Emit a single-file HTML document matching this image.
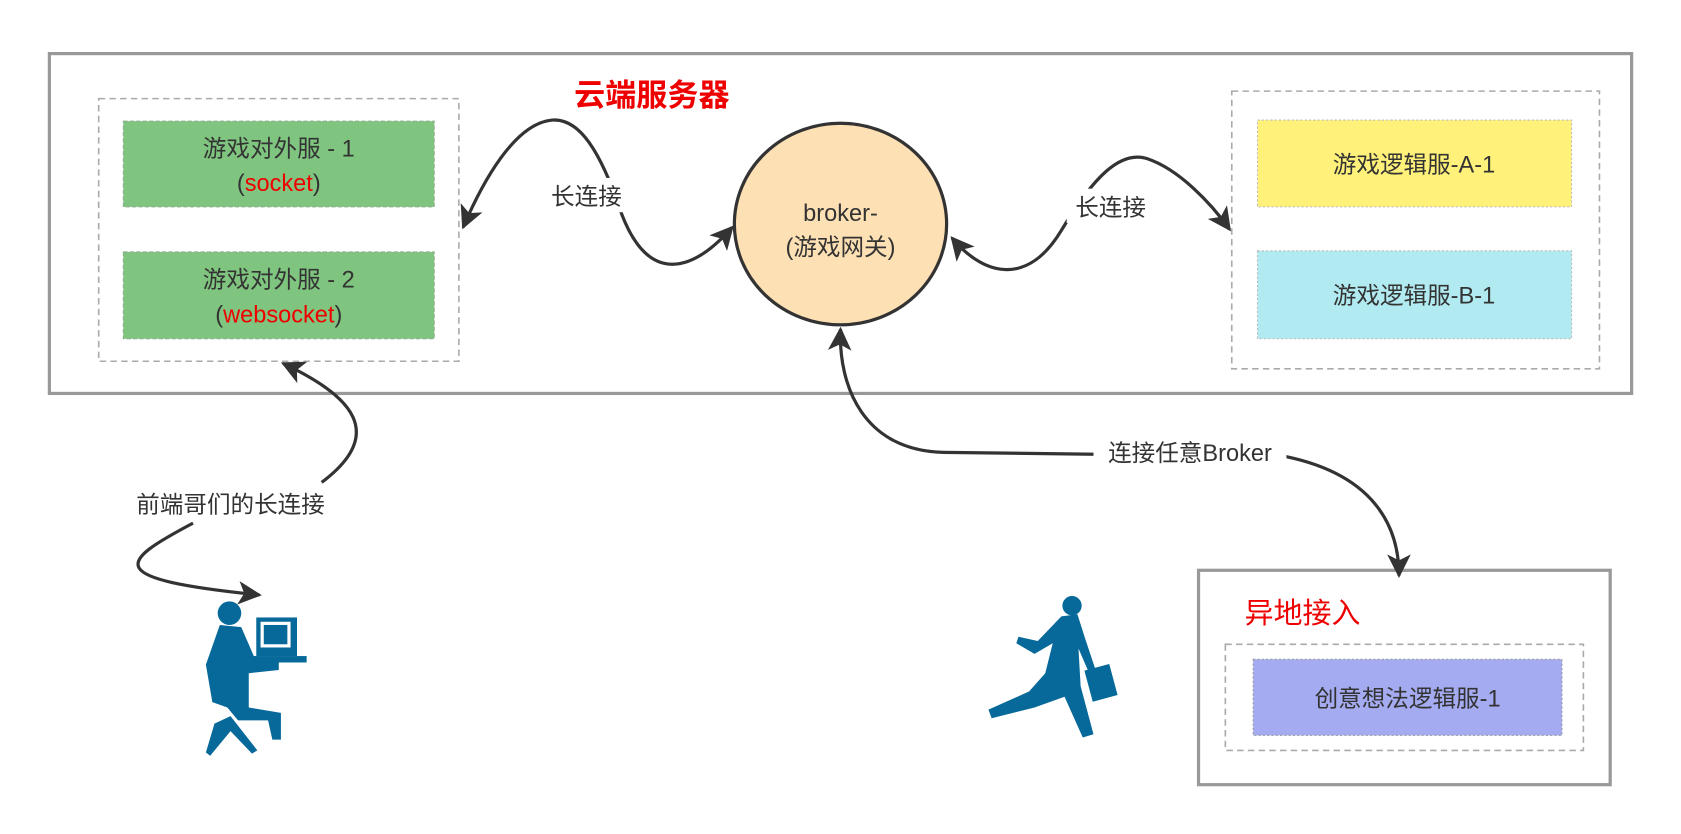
<!DOCTYPE html>
<html><head><meta charset="utf-8"><style>
html,body{margin:0;padding:0;background:#fff;}
svg{display:block}
text{font-family:"Liberation Sans","Noto Sans CJK SC",sans-serif;}
</style></head><body>
<svg width="1681" height="834" viewBox="0 0 1568 778" xmlns="http://www.w3.org/2000/svg">
<defs>
<marker id="b" viewBox="0 0 10 10" refX="9" refY="5" markerWidth="22" markerHeight="22" orient="auto-start-reverse" markerUnits="userSpaceOnUse">
<path d="M0,0 L10,5 L0,10 L2.5,5 z" fill="#333"/></marker>
</defs>
<rect x="46" y="50" width="1476" height="317" fill="#fff" stroke="#999" stroke-width="3"/>
<text x="608" y="99" font-size="29" font-weight="bold" fill="#e00" text-anchor="middle">云端服务器</text>
<rect x="92" y="92" width="336" height="245" fill="none" stroke="#aaa" stroke-width="1.5" stroke-dasharray="6,4"/>
<rect x="115" y="113" width="290" height="80" fill="#7fc57f" stroke="#8fae8f" stroke-dasharray="4,2"/>
<text x="260" y="146" font-size="22" fill="#333" text-anchor="middle">游戏对外服 - 1</text>
<text x="260" y="178" font-size="22" fill="#333" text-anchor="middle">(<tspan fill="#e00">socket</tspan>)</text>
<rect x="115" y="235" width="290" height="81" fill="#7fc57f" stroke="#8fae8f" stroke-dasharray="4,2"/>
<text x="260" y="268" font-size="22" fill="#333" text-anchor="middle">游戏对外服 - 2</text>
<text x="260" y="301" font-size="22" fill="#333" text-anchor="middle">(<tspan fill="#e00">websocket</tspan>)</text>
<ellipse cx="784" cy="209" rx="99" ry="94" fill="#fde0b4" stroke="#333" stroke-width="3"/>
<text x="784" y="206" font-size="22" fill="#333" text-anchor="middle">broker-</text>
<text x="784" y="238" font-size="22" fill="#333" text-anchor="middle">(游戏网关)</text>
<rect x="1149" y="85" width="343" height="259" fill="none" stroke="#aaa" stroke-width="1.5" stroke-dasharray="6,4"/>
<rect x="1173" y="112" width="293" height="81" fill="#fff17a" stroke="#bbb" stroke-dasharray="2,2"/>
<text x="1319" y="161" font-size="22" fill="#333" text-anchor="middle">游戏逻辑服-A-1</text>
<rect x="1173" y="234" width="293" height="82" fill="#b1ebf1" stroke="#bbb" stroke-dasharray="2,2"/>
<text x="1319" y="283" font-size="22" fill="#333" text-anchor="middle">游戏逻辑服-B-1</text>
<rect x="1118" y="532" width="384" height="200" fill="#fff" stroke="#999" stroke-width="3"/>
<text x="1215" y="581" font-size="27" fill="#e00" text-anchor="middle">异地接入</text>
<rect x="1143" y="601" width="334" height="99" fill="none" stroke="#aaa" stroke-width="1.5" stroke-dasharray="6,4"/>
<rect x="1169" y="615" width="288" height="71" fill="#a4abf1" stroke="#999" stroke-dasharray="2,2"/>
<text x="1313" y="659" font-size="22" fill="#333" text-anchor="middle">创意想法逻辑服-1</text>
<g fill="none" stroke="#333" stroke-width="3">
<path d="M683,212 C645,255 605,265 580,200 C560,140 540,110 515,112 C480,115 450,170 432,212" marker-start="url(#b)" marker-end="url(#b)"/>
<path d="M888,222 C920,260 960,265 990,215 C1020,165 1045,140 1070,148 C1100,158 1130,190 1147,214" marker-start="url(#b)" marker-end="url(#b)"/>
<path d="M784,307 C782,360 805,420 880,422 L1200,426 C1290,445 1305,500 1305,537" marker-start="url(#b)" marker-end="url(#b)"/>
<path d="M264,339 C330,370 360,405 300,450" marker-start="url(#b)"/>
<path d="M180,488 C110,525 95,540 242,555" marker-end="url(#b)"/>
</g>
<rect x="506" y="166" width="82" height="32" fill="#fff"/>
<text x="547" y="191" font-size="22" fill="#333" text-anchor="middle">长连接</text>
<rect x="995" y="176" width="82" height="32" fill="#fff"/>
<text x="1036" y="201" font-size="22" fill="#333" text-anchor="middle">长连接</text>
<rect x="1020" y="406" width="180" height="32" fill="#fff"/>
<text x="1110" y="430" font-size="22" fill="#333" text-anchor="middle">连接任意Broker</text>
<rect x="108" y="452" width="214" height="34" fill="#fff"/>
<text x="215" y="478" font-size="22" fill="#333" text-anchor="middle">前端哥们的长连接</text>
<g fill="#07699a">
<circle cx="214" cy="572" r="11"/>
<path d="M205,583 L225,585 L238,615 L260,615 L260,625 L232,628 L232,660 L262,665 L262,690 L254,690 L250,672 L222,672 L212,660 L198,655 L192,620 Z"/>
<rect x="239" y="576" width="38" height="36"/>
<rect x="243" y="580" width="28" height="24" fill="#fff"/>
<rect x="246" y="583" width="22" height="18"/>
<rect x="236" y="612" width="50" height="6"/>
<path d="M200,675 L215,668 L240,700 L235,703 L215,682 L196,705 L192,702 Z"/>
<circle cx="1000" cy="565" r="9"/>
<path d="M990,575 L1005,573 L1012,595 L1022,625 L1016,628 L1006,605 L1008,640 L1020,685 L1010,688 L993,650 L965,660 L925,670 L922,662 L960,645 L975,628 L982,600 L965,610 L948,600 L950,594 L968,598 Z"/>
<rect x="1015" y="622" width="24" height="30" transform="rotate(-15 1027 637)"/>
</g>
</svg>
</body></html>
